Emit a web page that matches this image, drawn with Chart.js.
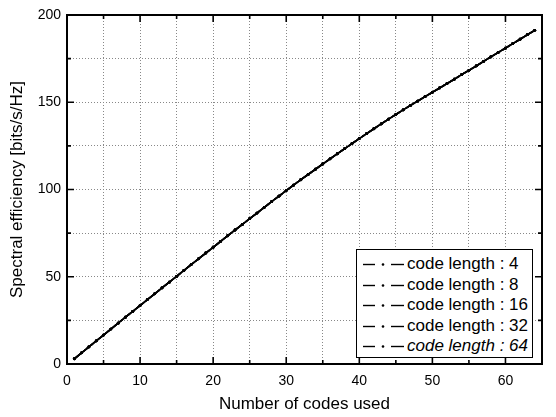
<!DOCTYPE html>
<html><head><meta charset="utf-8">
<script src="https://cdn.jsdelivr.net/npm/chart.js@4"></script>
<style>
html,body{margin:0;padding:0;background:#fff}
#wrap{position:relative;width:556px;height:417px}
#legend{position:absolute;left:356px;top:249px;width:177px;height:109px;box-sizing:border-box;border:1.3px solid #000;background:#fff;padding-top:4px}
#legend .row{position:relative;height:20.5px;line-height:20.5px;white-space:nowrap;font-family:"Liberation Sans",Arial,sans-serif;font-size:17px;color:#000}
#legend svg{position:absolute;left:5px;top:0}
#legend span{position:absolute;left:50px;top:0px}
</style>
</head><body><div id="wrap"><canvas id="c" width="556" height="417"></canvas><div id="legend"></div></div>
<script>
// Number of codes used (x)
const codesUsed = [1,2,3,4,5,6,7,8,9,10,11,12,13,14,15,16,17,18,19,20,21,22,23,24,25,26,27,28,29,30,31,32,
  33,34,35,36,37,38,39,40,41,42,43,44,45,46,47,48,49,50,51,52,53,54,55,56,57,58,59,60,61,62,63,64];
// Spectral efficiency [bits/s/Hz] (all code lengths overlap in the reference)
const spectralEfficiency = [3,6.4,9.8,13.2,16.6,20,23.4,26.8,30.1,33.5,36.9,40.2,43.6,46.9,50.2,53.6,57,60.3,63.6,66.9,
  70.2,73.5,76.8,80,83.3,86.5,89.8,93,96.2,99.4,102.5,105.6,108.6,111.6,114.6,117.6,120.5,123.4,126.3,129.2,
  132.0,134.8,137.6,140.3,143.0,145.6,148.2,150.7,153.2,155.7,158.2,160.7,163.2,165.8,168.3,170.8,173.4,176.0,178.5,181.0,
  183.6,186.1,188.7,191.2];
const seriesLabels = ['code length : 4','code length : 8','code length : 16','code length : 32','code length : 64'];
const seriesItalic = [false,false,false,false,true];
const xTickStep = 5, xLabelStep = 10;
const yTickStep = 25, yLabelStep = 50;

const dashes = [[], [8,3,2,3], [6,3,1,3], [10,2,2,2], []];
const datasets = seriesLabels.map((lab, k) => ({
  label: lab,
  data: codesUsed.map((x, i) => ({x: x, y: spectralEfficiency[i]})),
  borderColor: '#000', backgroundColor: '#000',
  borderWidth: 1.6, borderDash: dashes[k],
  pointRadius: 1.4, pointHoverRadius: 1.4, pointBorderWidth: 0,
  pointBackgroundColor: '#000', tension: 0, fill: false
}));

// HTML legend built from the series labels
const legendEl = document.getElementById('legend');
seriesLabels.forEach((lab, i) => {
  const row = document.createElement('div');
  row.className = 'row';
  row.innerHTML = '<svg width="44" height="20"><line x1="1" y1="10.5" x2="13" y2="10.5" stroke="#000" stroke-width="1.4"/>' +
    '<circle cx="21" cy="10.5" r="1.3" fill="#000"/><line x1="29" y1="10.5" x2="42" y2="10.5" stroke="#000" stroke-width="1.4"/></svg>';
  const sp = document.createElement('span');
  sp.textContent = lab;
  if (seriesItalic[i]) sp.style.fontStyle = 'italic';
  row.appendChild(sp);
  legendEl.appendChild(row);
});

const framePlugin = {
  id: 'frame',
  afterDraw(chart) {
    const {ctx, chartArea: a, scales: {x, y}} = chart;
    ctx.save();
    ctx.strokeStyle = '#000';
    ctx.lineWidth = 1.6;
    for (let v = 0; v <= x.max + 1e-9; v += xTickStep) {
      const px = x.getPixelForValue(v);
      const len = (v % xLabelStep === 0) ? 7 : 4;
      ctx.beginPath();
      ctx.moveTo(px, a.bottom); ctx.lineTo(px, a.bottom - len);
      ctx.moveTo(px, a.top); ctx.lineTo(px, a.top + len);
      ctx.stroke();
    }
    for (let v = 0; v <= y.max + 1e-9; v += yTickStep) {
      const py = y.getPixelForValue(v);
      const len = (v % yLabelStep === 0) ? 7 : 4;
      ctx.beginPath();
      ctx.moveTo(a.left, py); ctx.lineTo(a.left + len, py);
      ctx.moveTo(a.right, py); ctx.lineTo(a.right - len, py);
      ctx.stroke();
    }
    ctx.lineWidth = 2;
    ctx.strokeRect(a.left, a.top, a.right - a.left, a.bottom - a.top);
    ctx.restore();
  }
};

new Chart(document.getElementById('c'), {
  type: 'line',
  data: { datasets: datasets },
  options: {
    responsive: false, animation: false, devicePixelRatio: 1,
    layout: { padding: { left: 0, right: 14, top: 15, bottom: 0 } },
    plugins: { legend: { display: false }, tooltip: { enabled: false } },
    scales: {
      x: {
        type: 'linear', min: 0, max: 65,
        afterFit(s) { s.height = 53; },
        border: { display: false, dash: [1, 2] },
        grid: { color: '#888', lineWidth: 1, drawTicks: false },
        ticks: { stepSize: xTickStep, autoSkip: false, maxRotation: 0, padding: 9, color: '#000',
          font: { family: '"Liberation Sans", Arial, sans-serif', size: 14 },
          callback: v => (v % xLabelStep === 0 && v <= 60) ? String(v) : '' },
        title: { display: true, text: 'Number of codes used', color: '#000',
          font: { family: '"Liberation Sans", Arial, sans-serif', size: 17 }, padding: { top: 4, bottom: 2 } }
      },
      y: {
        type: 'linear', min: 0, max: 200,
        afterFit(s) { s.width = 67; },
        border: { display: false, dash: [1, 2] },
        grid: { color: '#888', lineWidth: 1, drawTicks: false },
        ticks: { stepSize: yTickStep, autoSkip: false, padding: 6, color: '#000',
          font: { family: '"Liberation Sans", Arial, sans-serif', size: 14 },
          callback: v => (v % yLabelStep === 0) ? String(v) : '' },
        title: { display: true, text: 'Spectral efficiency [bits/s/Hz]', color: '#000',
          font: { family: '"Liberation Sans", Arial, sans-serif', size: 17 }, padding: { top: 7, bottom: 4 } }
      }
    }
  },
  plugins: [framePlugin]
});
</script></body></html>
